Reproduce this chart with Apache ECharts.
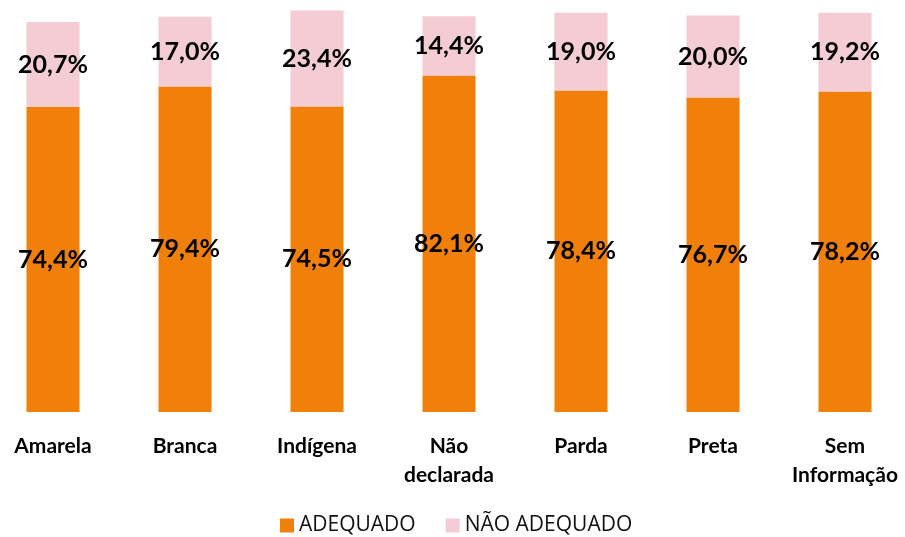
<!DOCTYPE html>
<html style="height: 100%; width: 100%">
  <head>
    <meta charset="utf-8" />
  </head>
  <body style="height: 100%; width: 100%; margin: 0; overflow: hidden">
    <!-- chart panel is a bit wider than the window so the outer bars sit like in the source -->
    <div id="chart-panel" style="height: 537px; width: 924px; margin-left: -13px"></div>
    <script src="https://cdn.jsdelivr.net/npm/echarts@6/dist/echarts.min.js"></script>
    <script type="text/javascript">
      var categories = ["Amarela", "Branca", "Indígena", "Não\ndeclarada", "Parda", "Preta", "Sem\nInformação"];
      var adequado = [74.4, 79.4, 74.5, 82.1, 78.4, 76.7, 78.2];
      var naoAdequado = [20.7, 17.0, 23.4, 14.4, 19.0, 20.0, 19.2];

      var myChart = echarts.init(document.getElementById("chart-panel"));

      function fmt(v) {
        return v.toFixed(1).replace(".", ",") + "%";
      }

      var labelStyle = {
        show: true,
        position: "inside",
        fontFamily: "Lato",
        fontWeight: "bold",
        fontSize: 25,
        color: "#000",
        formatter: function (p) {
          return fmt(p.value);
        },
      };

      var option = {
        textStyle: { fontFamily: "Lato" },
        grid: { left: 0, right: 0, top: 2, bottom: 125 },
        legend: {
          bottom: 1,
          left: 293,
          padding: 0,
          itemWidth: 14,
          itemHeight: 14,
          itemGap: 30,
          icon: "rect",
          textStyle: { fontFamily: "Open Sans", fontSize: 21, color: "#111" },
          data: ["ADEQUADO", "NÃO ADEQUADO"],
        },
        xAxis: {
          type: "category",
          data: categories,
          axisLine: { show: false },
          axisTick: { show: false },
          axisLabel: {
            interval: 0,
            margin: 20,
            fontFamily: "Lato",
            fontWeight: "bold",
            fontSize: 21,
            lineHeight: 29,
            color: "#000",
          },
        },
        yAxis: {
          type: "value",
          min: 0,
          max: 100,
          show: false,
          splitLine: { show: false },
        },
        series: [
          {
            name: "ADEQUADO",
            type: "bar",
            stack: "total",
            barWidth: 53,
            itemStyle: { color: "#F0800A" },
            label: labelStyle,
            data: adequado,
          },
          {
            name: "NÃO ADEQUADO",
            type: "bar",
            stack: "total",
            barWidth: 53,
            itemStyle: { color: "#F4CCD3" },
            label: labelStyle,
            data: naoAdequado,
          },
        ],
      };
      myChart.setOption(option);
    </script>
  </body>
</html>
